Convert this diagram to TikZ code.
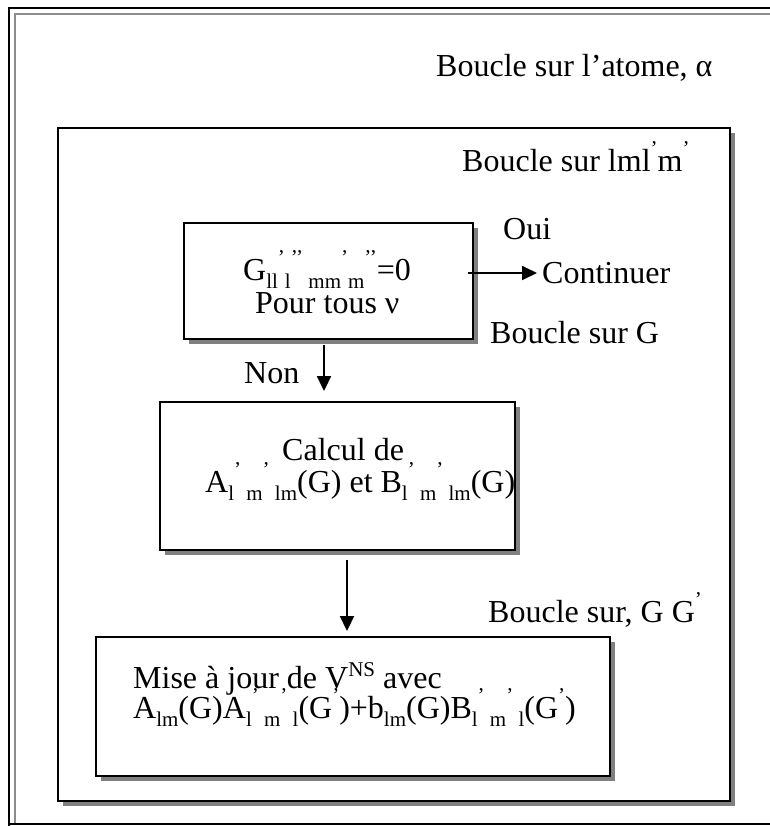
\documentclass[tikz,border=0pt]{standalone}
\usepackage{fontspec}
\setmainfont{Liberation Serif}
\usetikzlibrary{arrows.meta,shadows}
\newcommand\lo[1]{\raisebox{-0.26em}{\fontsize{21}{21}\selectfont #1}}
\newcommand\hi[1]{\raisebox{0.5em}{\fontsize{21}{21}\selectfont #1}}
\newcommand\upr[1]{\raisebox{0.36em}{\fontsize{21}{21}\selectfont #1}}
\tikzset{
  box/.style={draw=black, line width=1.9pt, fill=white, inner sep=0pt,
    drop shadow={shadow xshift=5pt, shadow yshift=-5pt, fill=black!50, opacity=1}},
  txt/.style={inner sep=0pt, anchor=base west, font=\fontsize{32}{32}\selectfont},
  arr/.style={line width=1.8pt, -{Triangle[width=14pt,length=15pt]}}
}
\begin{document}
\begin{tikzpicture}[x=1pt,y=-1pt]
\useasboundingbox (0,0) rectangle (769,826);
% outer frame
\draw[line width=2pt, black] (9,826) -- (9,8) -- (775,8);
\draw[line width=2pt, black] (9,824) -- (775,824);
\draw[line width=2pt, black!45] (15,823) -- (15,14) -- (775,14);
% boxes
\node[box, minimum width=672pt, minimum height=673pt] (b0) at (394,464.5) {};
\node[box, minimum width=289pt, minimum height=116pt] (b1) at (328.5,281) {};
\node[box, minimum width=355pt, minimum height=148pt] (b2) at (337.5,476) {};
\node[box, minimum width=514pt, minimum height=139pt] (b3) at (353,706.5) {};
% texts
\node[txt] (t0) at (436,77) {Boucle sur l’atome, α};
\node[txt] (t1) at (462,172) {Boucle sur lml\hi{’}m\hi{’}};
\node[txt] (oui) at (503,240) {Oui};
\node[txt] (cont) at (542,283) {Continuer};
\node[txt] (g1) at (243,280) {G\lo{ll}\hi{’}\lo{l}\hi{’’}\lo{ mm}\hi{’}\lo{m}\hi{’’}=0};
\node[txt] (g2) at (255,313) {Pour tous ν};
\node[txt] (non) at (244,383) {Non};
\node[txt] (t2) at (490,343) {Boucle sur G};
\node[txt] (c1) at (282,460) {Calcul de};
\node[txt] (c2) at (205,492) {A\lo{l}\hi{’}\lo{ m}\hi{’}\lo{ lm}(G) et B\lo{l}\hi{’}\lo{ m}\hi{’}\lo{ lm}(G)};
\node[txt] (t3) at (488,622) {Boucle sur, G G\hi{’}};
\node[txt] (m1) at (133,688) {Mise à jour de V\upr{NS} avec};
\node[txt] (m2) at (133,718) {A\lo{lm}(G)A\lo{l}\hi{’}\lo{ m}\hi{’}\lo{ l}(G\hi{’})+b\lo{lm}(G)B\lo{l}\hi{’}\lo{ m}\hi{’}\lo{ l}(G\hi{’})};
% arrows
\draw[arr] ([xshift=-4.5pt,yshift=-5pt]b1.south) -- ([xshift=-4.5pt,yshift=10pt]b1.south |- b2.north);
\draw[arr] ([xshift=9.5pt,yshift=-9pt]b2.south) -- ([xshift=9.5pt,yshift=5pt]b2.south |- b3.north);
\draw[arr] ([xshift=-6pt,yshift=8pt]b1.east) -- ([xshift=-5pt,yshift=8pt]b1.east -| cont.west);
\end{tikzpicture}
\end{document}
